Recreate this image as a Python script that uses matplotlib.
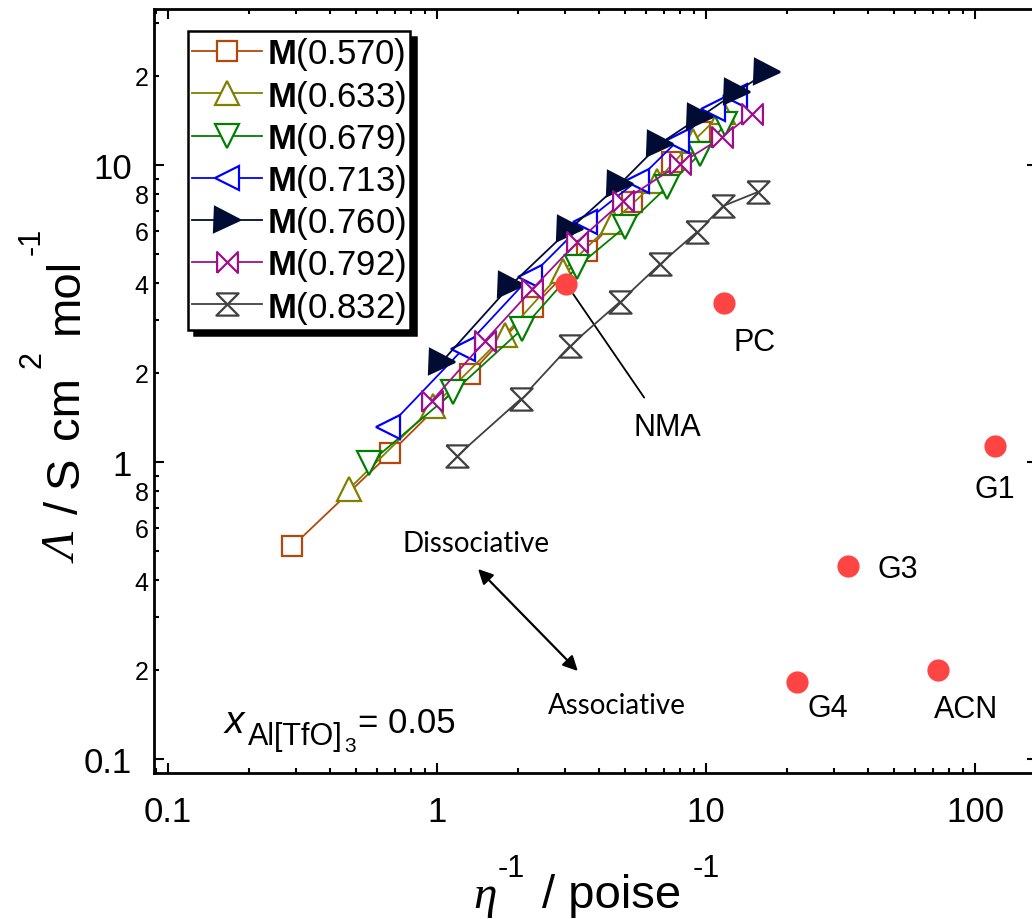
import numpy as np
import matplotlib
matplotlib.use("Agg")
import matplotlib.pyplot as plt
from matplotlib.path import Path
from matplotlib.ticker import FixedLocator, FixedFormatter, NullFormatter

# molar conductivity vs. fluidity, x(Al[TfO]3) = 0.05
m570_x = [0.29, 0.67, 1.33, 2.28, 3.61, 5.31, 7.47, 9.50]
m570_y = [0.52, 1.07, 1.98, 3.33, 5.13, 7.51, 10.2, 12.9]
m633_x = [0.47, 0.97, 1.79, 2.94, 4.51, 6.57, 8.95, 11.6]
m633_y = [0.81, 1.54, 2.68, 4.40, 6.43, 8.84, 12.0, 15.1]
m679_x = [0.56, 1.15, 2.07, 3.32, 5.00, 7.16, 9.50, 11.8]
m679_y = [0.99, 1.72, 2.80, 4.54, 6.18, 8.43, 10.9, 13.7]
m713_x = [0.66, 1.25, 2.22, 3.55, 5.54, 7.80, 10.6, 12.8]
m713_y = [1.31, 2.40, 4.20, 6.43, 8.84, 12.0, 15.4, 17.1]
m760_x = [1.04, 1.88, 3.12, 4.79, 6.75, 9.50, 13.0, 16.9]
m760_y = [2.17, 3.94, 6.09, 8.63, 11.8, 14.5, 17.6, 20.6]
m792_x = [0.96, 1.51, 2.26, 3.32, 4.91, 8.01, 11.5, 14.8]
m792_y = [1.61, 2.56, 3.82, 5.51, 7.56, 10.1, 12.4, 14.9]
m832_x = [1.19, 2.05, 3.12, 4.79, 6.75, 9.26, 11.6, 15.6]
m832_y = [1.05, 1.63, 2.46, 3.46, 4.64, 5.95, 7.28, 8.11]

serien_namen = ["0.570", "0.633", "0.679", "0.713", "0.760", "0.792", "0.832"]

# pure solvents
loesemittel = ["NMA", "PC", "G1", "G3", "G4", "ACN"]
loesemittel_x = [3.02, 11.7, 118.7, 33.7, 21.8, 72.9]
loesemittel_y = [3.98, 3.43, 1.13, 0.447, 0.182, 0.199]

x_major = [0.1, 1, 10, 100]
x_major_labels = ["0.1", "1", "10", "100"]
y_major = [0.1, 1, 10]
y_major_labels = ["0.1", "1", "10"]
y_minor = [0.2, 0.3, 0.4, 0.5, 0.6, 0.7, 0.8, 0.9,
           2, 3, 4, 5, 6, 7, 8, 9, 20, 30]
y_minor_labels = ["2", "", "4", "", "6", "", "8", "",
                  "2", "", "4", "", "6", "", "8", "", "2", ""]

plt.rcParams["font.family"] = ["Liberation Sans", "DejaVu Sans"]
plt.rcParams["mathtext.fontset"] = "custom"
plt.rcParams["mathtext.rm"] = "Liberation Sans"
plt.rcParams["mathtext.it"] = "Liberation Serif:italic"
plt.rcParams["mathtext.bf"] = "Liberation Sans:bold"

B, H = 1032, 920  # figure size in pixels

# bowtie and hourglass symbols
schleife = Path([(-1, -1), (-1, 1), (1, -1), (1, 1), (-1, -1)])
sanduhr = Path([(-1, 1), (1, 1), (-1, -1), (1, -1), (-1, 1)])

stil = [
    dict(color="#B5470C", marker="s", ms=14, mfc="white"),
    dict(color="#808000", marker="^", ms=17, mfc="white"),
    dict(color="#007F00", marker="v", ms=17, mfc="white"),
    dict(color="#0000FF", marker="<", ms=17, mfc="white"),
    dict(color="#000C33", marker=">", ms=18, mfc="#000C33"),
    dict(color="#9E0F8E", marker=schleife, ms=15, mfc="white"),
    dict(color="#404040", marker=sanduhr, ms=16, mfc="white"),
]
xs = [m570_x, m633_x, m679_x, m713_x, m760_x, m792_x, m832_x]
ys = [m570_y, m633_y, m679_y, m713_y, m760_y, m792_y, m832_y]

fig = plt.figure(figsize=(B / 100, H / 100), dpi=100)
ax = fig.add_axes([154 / B, 1 - 774 / H, 883 / B, 764 / H])
ax.set_xscale("log")
ax.set_yscale("log")

for i in range(len(xs)):
    s = stil[i]
    ax.plot(xs[i], ys[i], color=s["color"], lw=1.3, marker=s["marker"],
            ms=s["ms"], mfc=s["mfc"], mec=s["color"], mew=1.6,
            label=r"$\mathbf{M}$(" + serien_namen[i] + ")", zorder=3 + i)

ax.plot(loesemittel_x, loesemittel_y, ls="none", marker="o", ms=16,
        color="#FF4444", mec="none", zorder=12)

# label offsets in points
versatz = {"PC": (22, -28), "G1": (0, -31), "G3": (36, -2),
           "G4": (22, -19), "ACN": (20, -28)}
for name, x, y in zip(loesemittel, loesemittel_x, loesemittel_y):
    if name == "NMA":
        ax.annotate(name, xy=(x, y), xytext=(73, -103), textcoords="offset points",
                    ha="center", va="center", fontsize=22,
                    arrowprops=dict(arrowstyle="-", color="black", lw=1.3,
                                    shrinkA=10, shrinkB=9, relpos=(0.3, 1.0)))
    else:
        ax.annotate(name, xy=(x, y), xytext=versatz[name], textcoords="offset points",
                    ha="center", va="center", fontsize=22)

ax.annotate("", xy=(0.480, 0.1335), xytext=(0.367, 0.267), xycoords="axes fraction",
            arrowprops=dict(arrowstyle="<|-|>", color="black", lw=1.6, mutation_scale=22,
                            shrinkA=0, shrinkB=0))
ax.text(0.3647, 0.301, "Dissociative", transform=ax.transAxes, ha="center", va="center",
        fontsize=20, family="Lato")
ax.text(0.5243, 0.089, "Associative", transform=ax.transAxes, ha="center", va="center",
        fontsize=20, family="Lato")

# x(Al[TfO]3) = 0.05, built piece by piece
fig.text(225 / B, 1 - 733 / H, "x", fontsize=28, style="italic", va="baseline")
fig.text(248 / B, 1 - 745 / H, "Al[TfO]", fontsize=22, va="baseline")
fig.text(344 / B, 1 - 752 / H, "3", fontsize=15, va="baseline")
fig.text(358 / B, 1 - 733 / H, "= 0.05", fontsize=25, va="baseline")

ax.set_xlim(0.0887, 170)
ax.set_ylim(0.0897, 33.5)

ax.xaxis.set_major_locator(FixedLocator(x_major))
ax.xaxis.set_major_formatter(FixedFormatter(x_major_labels))
ax.xaxis.set_minor_formatter(NullFormatter())
ax.yaxis.set_major_locator(FixedLocator(y_major))
ax.yaxis.set_major_formatter(FixedFormatter(y_major_labels))
ax.yaxis.set_minor_locator(FixedLocator(y_minor))
ax.yaxis.set_minor_formatter(FixedFormatter(y_minor_labels))

ax.tick_params(which="both", direction="in", top=True, right=True, width=1.5)
ax.tick_params(which="major", length=7, labelsize=25, pad=16)
ax.tick_params(which="minor", length=3.6)
ax.tick_params(axis="y", which="minor", labelsize=18, pad=4)
for sp in ax.spines.values():
    sp.set_linewidth(2)

# axis titles with raised exponents
fig.text(473 / B, 1 - 908 / H, "η", fontsize=34, family="Liberation Serif",
         style="italic", va="baseline")
fig.text(498 / B, 1 - 877 / H, "-1", fontsize=22, va="baseline")
fig.text(542 / B, 1 - 908 / H, "/ poise", fontsize=34, va="baseline")
fig.text(693 / B, 1 - 877 / H, "-1", fontsize=22, va="baseline")

senkrecht = dict(rotation=90, rotation_mode="anchor", ha="left", va="baseline")
fig.text(78 / B, 1 - 563 / H, "Λ", fontsize=34, family="Liberation Serif",
         style="italic", **senkrecht)
fig.text(78 / B, 1 - 514 / H, "/", fontsize=34, **senkrecht)
fig.text(78 / B, 1 - 488 / H, "S", fontsize=34, **senkrecht)
fig.text(78 / B, 1 - 439 / H, "cm", fontsize=34, **senkrecht)
fig.text(40 / B, 1 - 368 / H, "2", fontsize=22, **senkrecht)
fig.text(78 / B, 1 - 334 / H, "mol", fontsize=34, **senkrecht)
fig.text(40 / B, 1 - 255 / H, "-1", fontsize=22, **senkrecht)

leg = ax.legend(loc="upper left", bbox_to_anchor=(0.0386, 0.971), borderaxespad=0,
                fontsize=25, frameon=True, fancybox=False, edgecolor="black",
                handlelength=2.0, handletextpad=0.15, borderpad=0.12, labelspacing=0.15,
                shadow={"ox": 4, "oy": -4, "color": "black", "alpha": 1})
leg.get_frame().set_linewidth(1.8)
leg.set_zorder(20)

fig.savefig("out.png", dpi=100)
